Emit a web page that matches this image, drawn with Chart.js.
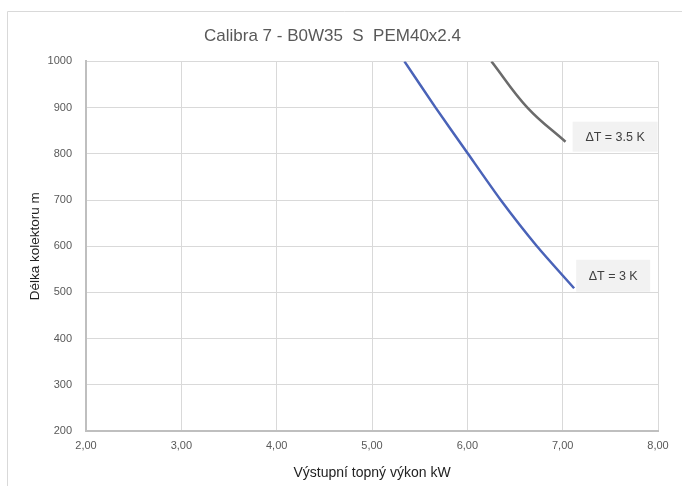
<!DOCTYPE html>
<html>
<head>
<meta charset="utf-8">
<script src="https://cdn.jsdelivr.net/npm/chart.js@4.4.1/dist/chart.umd.min.js"></script>
<style>
  html, body { margin: 0; padding: 0; background: #fff; }
  #wrap { width: 682px; height: 486px; }
</style>
</head>
<body>
<div id="wrap"><canvas id="chart" width="682" height="486"></canvas></div>
<script>
// values
const chartTitle = 'Calibra 7 - B0W35  S  PEM40x2.4';
const seriesNames = ['ΔT = 3 K', 'ΔT = 3.5 K'];
const dt3X = [5.34, 5.667, 6.007, 6.35, 6.73, 7.12];
const dt3Y = [1000, 900, 800, 700, 600, 509];
const dt35X = [6.253, 6.63, 7.03];
const dt35Y = [1000, 900, 826];
const xTicks = [2, 3, 4, 5, 6, 7, 8];
const xTickLabels = ['2,00', '3,00', '4,00', '5,00', '6,00', '7,00', '8,00'];
const yTicks = [200, 300, 400, 500, 600, 700, 800, 900, 1000];

const toPoints = (xs, ys) => xs.map((x, i) => ({ x: x, y: ys[i] }));
const FONT = '"Liberation Sans", Arial, sans-serif';

// light frame round the chart (left and top edge only are in the picture)
const framePlugin = {
    id: 'frame',
    beforeDraw(chart) {
        const ctx = chart.ctx;
        ctx.save();
        ctx.strokeStyle = '#d9d9d9';
        ctx.lineWidth = 1;
        ctx.beginPath();
        ctx.moveTo(682, 11.5);
        ctx.lineTo(7.5, 11.5);
        ctx.lineTo(7.5, 486);
        ctx.stroke();
        ctx.restore();
    }
};

// grey label boxes next to the line ends
const tagPlugin = {
    id: 'tags',
    afterDatasetsDraw(chart, args, opts) {
        const ctx = chart.ctx;
        const xs = chart.scales.x, ys = chart.scales.y;
        ctx.save();
        opts.items.forEach(item => {
            const cx = xs.getPixelForValue(item.x);
            const cy = ys.getPixelForValue(item.y);
            ctx.fillStyle = '#f2f2f2';
            ctx.fillRect(cx - item.w / 2, cy - item.h / 2, item.w, item.h);
            ctx.fillStyle = '#404040';
            ctx.font = '12.5px ' + FONT;
            ctx.textAlign = 'center';
            ctx.textBaseline = 'middle';
            ctx.fillText(item.text, cx, cy + 1);
        });
        ctx.restore();
    }
};

new Chart(document.getElementById('chart'), {
    type: 'scatter',
    data: {
        datasets: [{
            label: seriesNames[0],
            data: toPoints(dt3X, dt3Y),
            showLine: true,
            borderColor: '#4a63b8',
            borderWidth: 2.5,
            pointRadius: 0,
            tension: 0.2
        }, {
            label: seriesNames[1],
            data: toPoints(dt35X, dt35Y),
            showLine: true,
            borderColor: '#6b6b6b',
            borderWidth: 2.5,
            pointRadius: 0,
            tension: 0.4
        }]
    },
    options: {
        responsive: false,
        animation: false,
        layout: { padding: { left: 7, top: 11, right: 24, bottom: 0 } },
        plugins: {
            legend: { display: false },
            tooltip: { enabled: false },
            title: {
                display: true,
                text: chartTitle,
                color: '#595959',
                font: { family: FONT, size: 17, weight: 'normal' },
                padding: { top: 15, bottom: 15 }
            },
            tags: {
                items: [
                    { text: seriesNames[1], x: 7.55, y: 837, w: 85, h: 30 },
                    { text: seriesNames[0], x: 7.53, y: 536, w: 74, h: 32 }
                ]
            }
        },
        scales: {
            x: {
                type: 'linear',
                min: 2,
                max: 8,
                afterBuildTicks: s => { s.ticks = xTicks.map(v => ({ value: v })); },
                ticks: {
                    callback: v => xTickLabels[xTicks.indexOf(v)],
                    color: '#595959',
                    padding: 8,
                    font: { family: FONT, size: 11 }
                },
                grid: { color: '#d9d9d9', drawTicks: false },
                border: { color: '#bfbfbf', width: 2 },
                title: {
                    display: true,
                    text: 'Výstupní topný výkon kW',
                    color: '#222',
                    font: { family: FONT, size: 14 },
                    padding: { top: 5 }
                }
            },
            y: {
                min: 200,
                max: 1000,
                afterBuildTicks: s => { s.ticks = yTicks.map(v => ({ value: v })); },
                afterFit: s => { s.width = 79; },
                ticks: {
                    callback: v => String(v),
                    color: '#595959',
                    padding: 14,
                    font: { family: FONT, size: 11 }
                },
                grid: { color: '#d9d9d9', drawTicks: false },
                border: { color: '#bfbfbf', width: 2 },
                title: {
                    display: true,
                    text: 'Délka kolektoru m',
                    color: '#222',
                    font: { family: FONT, size: 13.5 },
                    padding: { top: 20 }
                }
            }
        }
    },
    plugins: [framePlugin, tagPlugin]
});
</script>
</body>
</html>
